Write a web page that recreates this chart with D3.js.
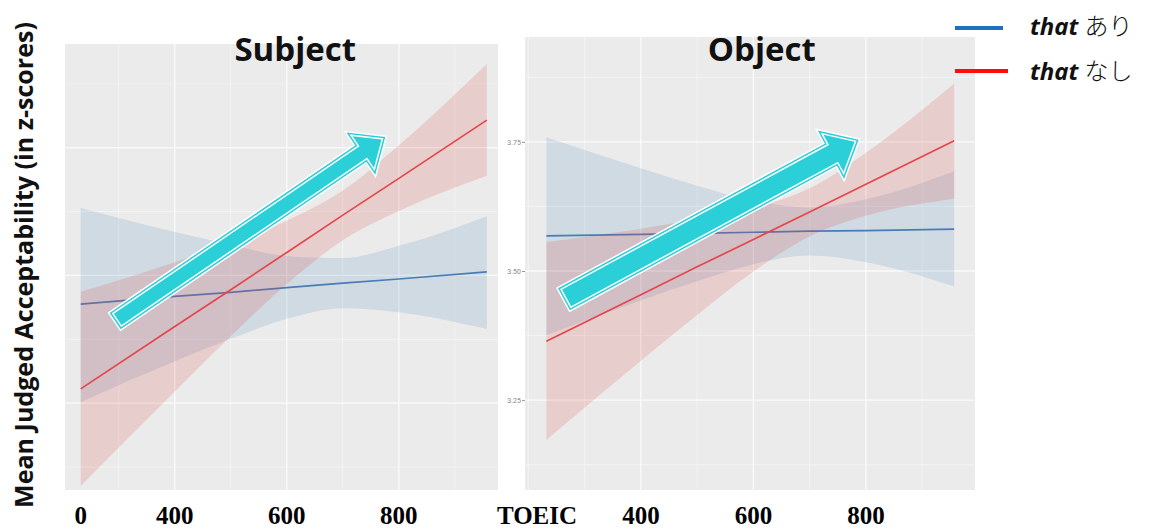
<!DOCTYPE html>
<html>
<head>
<meta charset="utf-8">
<script src="https://cdn.jsdelivr.net/npm/d3@7"></script>
<style>
  body { margin: 0; background: #fff; }
  svg { display: block; }
</style>
</head>
<body>
<div id="chart"></div>
<script>
const toeic = [232, 400, 500, 600, 700, 800, 957];

// Subject panel
const subjAriFit   = [3.444, 3.459, 3.467, 3.476, 3.485, 3.493, 3.507];
const subjAriLo    = [3.252, 3.332, 3.376, 3.415, 3.436, 3.428, 3.395];
const subjAriHi    = [3.632, 3.585, 3.560, 3.538, 3.534, 3.558, 3.616];
const subjNashiFit = [3.278, 3.400, 3.472, 3.545, 3.618, 3.690, 3.804];
const subjNashiLo  = [3.088, 3.273, 3.381, 3.483, 3.569, 3.626, 3.695];
const subjNashiHi  = [3.468, 3.526, 3.564, 3.607, 3.666, 3.755, 3.914];

// Object panel
const objAriFit    = [3.568, 3.571, 3.573, 3.575, 3.577, 3.578, 3.581];
const objAriLo     = [3.376, 3.443, 3.480, 3.513, 3.530, 3.517, 3.470];
const objAriHi     = [3.759, 3.699, 3.665, 3.636, 3.623, 3.639, 3.693];
const objNashiFit  = [3.364, 3.454, 3.508, 3.561, 3.614, 3.668, 3.752];
const objNashiLo   = [3.173, 3.326, 3.415, 3.499, 3.567, 3.607, 3.640];
const objNashiHi   = [3.556, 3.582, 3.600, 3.622, 3.660, 3.729, 3.863];

// axes / grid
const xTicks = [400, 600, 800];
const xMinor = [200, 300, 500, 700, 900];
const yTicks = [3.25, 3.50, 3.75];
const yMinor = [3.125, 3.375, 3.625, 3.875];
const titles = ["Subject", "Object"];
const legendWord = "that";
const legendLabels = ["あり", "なし"];

// the big cyan annotation arrows (TOEIC, score)
const arrowTail = [[298, 3.414], [268, 3.448]];
const arrowTip  = [[769, 3.766], [780, 3.750]];

const W = 1158, H = 531;
const BLUE = "#4a7cb8", RED = "#e4474c";
const CYAN = "#2acfd8";

const svg = d3.select("#chart").append("svg")
  .attr("width", W)
  .attr("height", H);

const panels = [
  { left: 65,  right: 498, top: 44, bottom: 490, xDom: [204, 977], yDom: [3.080, 3.953],
    ari: [subjAriFit, subjAriLo, subjAriHi], nashi: [subjNashiFit, subjNashiLo, subjNashiHi],
    arrow: { shaft: 6.8, head: 19, len: 22 } },
  { left: 525, right: 975, top: 37, bottom: 490, xDom: [194, 994], yDom: [3.076, 3.953],
    ari: [objAriFit, objAriLo, objAriHi], nashi: [objNashiFit, objNashiLo, objNashiHi],
    arrow: { shaft: 9.5, head: 21, len: 24 } }
];

panels.forEach((p, pi) => {
  const x = d3.scaleLinear().domain(p.xDom).range([p.left, p.right]);
  const y = d3.scaleLinear().domain(p.yDom).range([p.bottom, p.top]);
  const g = svg.append("g");

  // panel background
  g.append("rect")
    .attr("x", p.left).attr("y", p.top)
    .attr("width", p.right - p.left).attr("height", p.bottom - p.top)
    .attr("fill", "#ebebeb");

  const clipId = "clip" + pi;
  svg.append("clipPath").attr("id", clipId)
    .append("rect")
      .attr("x", p.left).attr("y", p.top)
      .attr("width", p.right - p.left).attr("height", p.bottom - p.top);

  const inner = g.append("g").attr("clip-path", `url(#${clipId})`);

  // grid lines
  inner.selectAll(".vminor").data(xMinor).enter().append("line")
    .attr("x1", d => x(d)).attr("x2", d => x(d))
    .attr("y1", p.top).attr("y2", p.bottom)
    .attr("stroke", "#f5f5f5").attr("stroke-width", 0.8);
  inner.selectAll(".hminor").data(yMinor).enter().append("line")
    .attr("x1", p.left).attr("x2", p.right)
    .attr("y1", d => y(d)).attr("y2", d => y(d))
    .attr("stroke", "#f5f5f5").attr("stroke-width", 0.8);
  inner.selectAll(".vmajor").data(xTicks).enter().append("line")
    .attr("x1", d => x(d)).attr("x2", d => x(d))
    .attr("y1", p.top).attr("y2", p.bottom)
    .attr("stroke", "#fbfbfb").attr("stroke-width", 1.3);
  inner.selectAll(".hmajor").data(yTicks).enter().append("line")
    .attr("x1", p.left).attr("x2", p.right)
    .attr("y1", d => y(d)).attr("y2", d => y(d))
    .attr("stroke", "#fbfbfb").attr("stroke-width", 1.3);

  const rows = s => toeic.map((t, i) => ({ t, fit: s[0][i], lo: s[1][i], hi: s[2][i] }));
  const band = d3.area()
    .x(d => x(d.t)).y0(d => y(d.lo)).y1(d => y(d.hi))
    .curve(d3.curveMonotoneX);
  const fitLine = d3.line().x(d => x(d.t)).y(d => y(d.fit));

  // geom_smooth style: ribbon + line per group
  [[p.ari, BLUE, "#4682b4", 0.16], [p.nashi, RED, "#e0464a", 0.18]].forEach(([s, col, fillCol, op]) => {
    const data = rows(s);
    inner.append("path").datum(data)
      .attr("d", band)
      .attr("fill", fillCol)
      .attr("fill-opacity", op);
    inner.append("path").datum(data)
      .attr("d", fitLine)
      .attr("fill", "none")
      .attr("stroke", col)
      .attr("stroke-width", 1.7);
  });

  // tiny y tick labels only on the Object panel
  if (pi === 1) {
    const ya = g.append("g")
      .attr("transform", `translate(${p.left},0)`)
      .call(d3.axisLeft(y).tickValues(yTicks).tickSize(3).tickFormat(d3.format(".2f")));
    ya.select(".domain").remove();
    ya.selectAll("line").attr("stroke", "#999");
    ya.selectAll("text")
      .attr("font-family", "Roboto, sans-serif")
      .attr("font-size", 7)
      .attr("fill", "#888")
      .attr("x", -4);
  }

  // big cyan arrow
  const a = p.arrow;
  const t0 = [x(arrowTail[pi][0]), y(arrowTail[pi][1])];
  const t1 = [x(arrowTip[pi][0]), y(arrowTip[pi][1])];
  const dx = t1[0] - t0[0], dy = t1[1] - t0[1];
  const L = Math.hypot(dx, dy);
  const ux = dx / L, uy = dy / L, nx = -uy, ny = ux;
  const bx = t1[0] - ux * a.len, by = t1[1] - uy * a.len;
  const pts = [
    [t0[0] + nx * a.shaft, t0[1] + ny * a.shaft],
    [bx + nx * a.shaft, by + ny * a.shaft],
    [bx + nx * a.head, by + ny * a.head],
    t1,
    [bx - nx * a.head, by - ny * a.head],
    [bx - nx * a.shaft, by - ny * a.shaft],
    [t0[0] - nx * a.shaft, t0[1] - ny * a.shaft]
  ];
  const arrowPath = "M" + pts.map(q => q.join(",")).join("L") + "Z";
  [["#ffffff", 9], [CYAN, 6], ["#ffffff", 3]].forEach(([c, w]) => {
    g.append("path").attr("d", arrowPath)
      .attr("fill", "none").attr("stroke", c).attr("stroke-width", w)
      .attr("stroke-linejoin", "miter").attr("stroke-miterlimit", 6);
  });
  g.append("path").attr("d", arrowPath).attr("fill", CYAN);

  // panel title
  svg.append("text")
    .attr("x", x(615)).attr("y", 61)
    .attr("text-anchor", "middle")
    .attr("font-family", "'Open Sans', sans-serif")
    .attr("font-weight", 700)
    .attr("font-size", 33)
    .attr("fill", "#111")
    .text(titles[pi]);

  // x tick labels (pasted-in Times style numbers)
  const lab = svg.append("g")
    .attr("font-family", "'Liberation Serif', 'Times New Roman', serif")
    .attr("font-weight", 700)
    .attr("font-size", 25)
    .attr("fill", "#000")
    .attr("text-anchor", "middle");
  const tv = pi === 0 ? [toeic[0]].concat(xTicks) : xTicks;
  lab.selectAll("text").data(tv).enter().append("text")
    .attr("x", d => x(d)).attr("y", 524)
    .text(d => d === toeic[0] ? "0" : d);
  if (pi === 1) {
    lab.append("text")
      .attr("x", p.left + 12).attr("y", 524)
      .text("TOEIC");
  }
});

// y axis title
const yTitle = svg.append("text")
  .attr("transform", "translate(33,265) rotate(-90)")
  .attr("text-anchor", "middle")
  .attr("font-family", "'Open Sans', sans-serif")
  .attr("font-weight", 700)
  .attr("font-size", 26)
  .attr("fill", "#111")
  .text("Mean Judged Acceptability (in z-scores)");
const tl = yTitle.node().getComputedTextLength();
yTitle.attr("font-size", 26 * 486 / tl);

// legend
const legend = svg.append("g");
[BLUE, RED].forEach((c, i) => {
  legend.append("line")
    .attr("x1", 955).attr("x2", i === 0 ? 1003 : 1008)
    .attr("y1", 28 + i * 43).attr("y2", 28 + i * 43)
    .attr("stroke", i === 0 ? "#1f70c1" : "#ff0d0d")
    .attr("stroke-width", 4);
  const t = legend.append("text")
    .attr("x", 1030).attr("y", 35 + i * 45)
    .attr("font-size", 24)
    .attr("fill", "#111");
  t.append("tspan")
    .attr("font-family", "'Open Sans', sans-serif")
    .attr("font-weight", 700)
    .attr("font-style", "italic")
    .text(legendWord);
  t.append("tspan")
    .attr("dx", 6)
    .attr("font-family", "'Noto Sans CJK JP', sans-serif")
    .attr("font-weight", 300)
    .text(legendLabels[i]);
});
</script>
</body>
</html>
